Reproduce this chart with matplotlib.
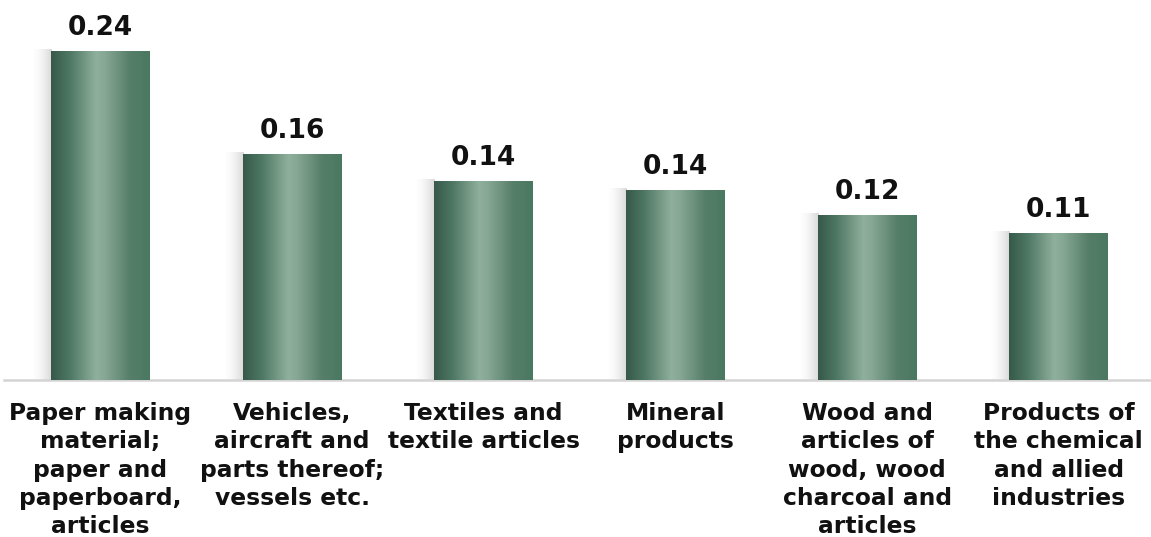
import numpy as np
import matplotlib
matplotlib.use("Agg")
import matplotlib.pyplot as plt
from matplotlib.colors import LinearSegmentedColormap

# Data
categories = [
    "Paper making\nmaterial;\npaper and\npaperboard,\narticles",
    "Vehicles,\naircraft and\nparts thereof;\nvessels etc.",
    "Textiles and\ntextile articles",
    "Mineral\nproducts",
    "Wood and\narticles of\nwood, wood\ncharcoal and\narticles",
    "Products of\nthe chemical\nand allied\nindustries",
]
values = [0.240, 0.1645, 0.1449, 0.1382, 0.1204, 0.1072]

plt.rcParams["font.family"] = "DejaVu Sans"
plt.rcParams["font.weight"] = "bold"

fig = plt.figure(figsize=(11.51, 5.37), dpi=100)
ax = fig.add_axes([0.0039, 0.2924, 0.9993, 0.7076])

x = np.arange(len(values))
bar_w = 0.516
bars = ax.bar(x, values, width=bar_w, color="#5f8b73", zorder=3)

# gradient fill for the cylinders
cmap = LinearSegmentedColormap.from_list(
    "bar", [(0.0, "#37594a"), (0.18, "#4c7662"), (0.46, "#8fb09c"),
            (0.56, "#83a591"), (0.8, "#567e69"), (1.0, "#4a7860")])
grad = np.linspace(0, 1, 256).reshape(1, -1)

px = 1.0 / 191.7  # one pixel in x data units
py = 0.2778 / 380.0
shade = np.zeros((1, 40, 4))
shade[..., :3] = 0.55
shade[..., 3] = np.linspace(0, 0.55, 40) ** 1.8

for rect in bars:
    x0, w, h = rect.get_x(), rect.get_width(), rect.get_height()
    ax.imshow(shade, aspect="auto", extent=(x0 - 20 * px, x0 + 1 * px, 0, h + 2 * py),
              zorder=2, interpolation="bilinear")
    ax.imshow(grad, cmap=cmap, aspect="auto", extent=(x0, x0 + w, 0, h),
              zorder=4, interpolation="bilinear")

ax.set_xlim(-0.5, len(values) - 0.5)
ax.set_ylim(0, 0.2778)

for xi, v in zip(x, values):
    ax.annotate(f"{v:.2f}", (xi, v), xytext=(0, 12), textcoords="offset points",
                ha="center", va="baseline", fontsize=19, fontweight="bold",
                color="#111111")

ax.set_xticks(x)
ax.set_xticklabels(categories, fontsize=16.8, fontweight="bold", color="#111111",
                   linespacing=1.29, va="top", ha="center")
ax.tick_params(axis="x", length=0, pad=16)
ax.set_yticks([])

for s in ["top", "left", "right"]:
    ax.spines[s].set_visible(False)
ax.spines["bottom"].set_color("#d4d4d4")
ax.spines["bottom"].set_linewidth(1.8)

fig.savefig("out.png", dpi=100)
